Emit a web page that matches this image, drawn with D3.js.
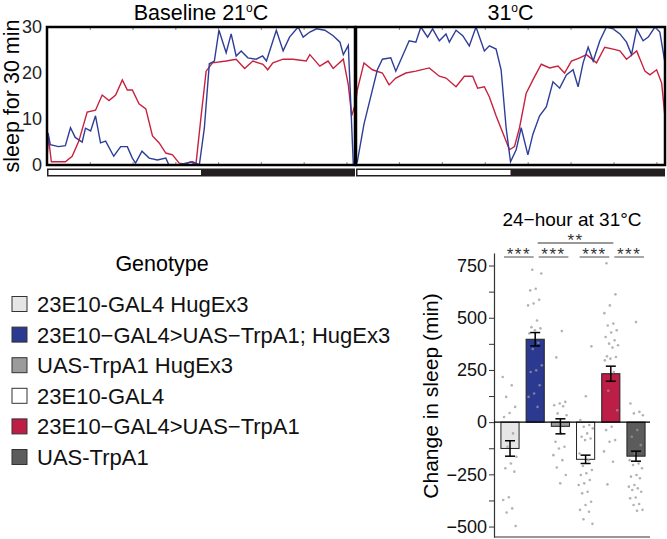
<!DOCTYPE html>
<html>
<head>
<meta charset="utf-8">
<script src="https://cdn.jsdelivr.net/npm/d3@7"></script>
<style>
  body { margin: 0; background: #fff; }
  text { font-family: "Liberation Sans", Arial, sans-serif; }
</style>
</head>
<body>
<script>
// sleep traces, [hour of day, min of sleep per 30 min]
var baselineBlue = [[0,0.5],[0.08,7],[0.26,4.4],[0.9,4],[1.43,4.2],[1.83,8.1],[2.2,6],[2.74,5],[3.0,8],[3.4,7.4],[3.78,10.7],[4.17,4.8],[4.57,5.2],[5.2,1.9],[5.74,4],[6.26,4],[6.65,1.5],[6.9,0.4],[7.4,3],[7.96,1.5],[8.6,1.1],[9.26,1.5],[9.5,0],[10.3,0],[10.8,0.4],[11.35,0.7],[11.87,0],[12.26,8],[12.65,22],[13.04,22.6],[13.4,29.3],[13.96,24.4],[14.35,28.5],[14.74,23.7],[15.13,24.8],[15.65,23.3],[16.3,23],[16.8,23.7],[17.1,22.6],[17.87,29.3],[18.4,24.8],[18.9,27.8],[19.57,30],[19.96,27.8],[20.48,28.9],[21.0,29.6],[21.65,29.3],[22.3,28.1],[22.83,26.7],[23.09,24],[23.48,26],[23.87,0],[24,0]];
var baselineRed = [[0,0.5],[0.08,6.7],[0.34,0.7],[1.43,0.7],[1.96,1.9],[2.48,5.2],[3.13,11.5],[3.78,11.9],[4.3,15.2],[4.83,14],[5.35,15.2],[5.87,18.5],[6.26,16.3],[6.65,16.3],[7.17,13.3],[7.7,12.2],[8.22,6.3],[8.74,4.8],[9.26,2.6],[9.78,2.2],[10.3,0.4],[10.83,0.2],[11.2,0.7],[11.6,0],[12.0,10.4],[12.4,20.4],[12.9,22.2],[13.96,22.6],[14.74,23],[15.4,21],[16.04,22.6],[16.83,21.9],[17.2,20.7],[17.6,22.2],[18.4,23],[19.17,23],[20.2,22.6],[20.48,24],[21.26,21.5],[21.9,22.6],[22.3,21],[23.09,23],[23.48,17.4],[23.74,10.7],[24,13]];
var heatBlue = [[0,0.2],[0.1,0.7],[0.62,8.9],[1.14,14.8],[1.66,20.7],[2.05,23],[2.7,23.3],[3.09,20.4],[3.61,23.7],[4.13,27],[4.65,26.7],[5.04,30],[5.56,27.8],[5.95,29.6],[6.47,27],[6.99,28.5],[7.25,26.7],[7.77,29.3],[8.29,28.1],[8.8,25.9],[9.32,30],[9.97,24.8],[10.36,25.9],[10.88,25.2],[11.27,20.7],[11.66,8.1],[12.0,0.7],[12.44,3.3],[12.83,8.1],[13.35,2.2],[13.74,6.7],[14.26,10.7],[14.78,12.6],[15.3,18.1],[15.82,16.7],[16.34,19.6],[16.86,20.7],[17.25,17],[17.64,22.2],[18.03,25.6],[18.42,22.6],[18.94,27],[19.45,30],[19.97,29.6],[20.5,28.5],[21.01,26.7],[21.4,24],[21.8,29.6],[22.3,27],[22.7,27.8],[23.22,30],[23.6,28.9],[24,22.2]];
var heatRed = [[0,14],[0.1,16.3],[0.62,22.2],[1.27,20.7],[2.05,20],[2.57,17.4],[3.09,18.9],[3.87,20],[4.65,20.4],[5.69,21.1],[6.47,19.3],[6.99,18.9],[7.77,17],[8.42,19.3],[9.06,19.3],[9.45,16.7],[9.97,17],[10.36,14.8],[10.88,10.7],[11.4,7],[11.92,3.3],[12.31,4],[12.7,8.1],[13.22,15.6],[13.74,18.5],[14.39,21.9],[15.04,21.1],[15.69,21.5],[16.2,20],[16.73,22.6],[17.38,23.3],[17.9,24],[18.68,22.2],[19.32,25.6],[19.97,25.2],[20.5,24.8],[21.01,23],[21.8,24.8],[22.44,20.4],[22.83,19.6],[23.35,20.7],[23.74,17.8],[24,10.4]];
var sleepTicks = [0, 10, 20, 30];

// bar chart
var genotypes = ["23E10-GAL4 HugEx3", "23E10\u2212GAL4>UAS\u2212TrpA1; HugEx3", "UAS-TrpA1 HugEx3", "23E10-GAL4", "23E10\u2212GAL4>UAS\u2212TrpA1", "UAS-TrpA1"];
var genoColors = ["#e6e6e6", "#2b3990", "#9b9b9b", "#ffffff", "#bd1e45", "#5c5c5c"];
var meanChange = [-126, 397, -20, -178, 232, -163];
var seChange = [37, 32, 36, 20, 36, 24];
var flyPoints = [
  [216, 177, 121, 73, 44, 25, -54, -118, -166, -198, -221, -237, -360, -373, -413, -433, -497],
  [730, 712, 639, 631, 586, 568, 559, 487, 455, 449, 440, 425, 380, 350, 272, 248, 240, 177, 137, 121, 73],
  [436, 310, 97, 89, 81, 76, 42, 33, -54, -94, -118, -126, -158, -182, -217, -253, -293],
  [363, 124, 10, -14, -22, -30, -54, -70, -78, -86, -150, -182, -210, -229, -245, -253, -277, -293, -301, -333, -341, -381, -397, -420, -429, -465, -487],
  [761, 612, 559, 522, 472, 463, 440, 429, 408, 392, 376, 368, 357, 315, 312, 304, 296, 240, 150, 57, -22, -38, -86, -94, -140, -190, -298],
  [479, 89, 49, 42, 33, -38, -70, -110, -150, -182, -198, -205, -221, -253, -261, -269, -301, -309, -317, -325, -333, -361, -365, -392, -397, -420, -424]
];
var changeTicks = [-500, -375, -250, -125, 0, 125, 250, 375, 500, 625, 750];
// [from bar, to bar, label, level]
var comparisons = [[0, 1, "***", 0], [1, 2, "***", 0], [3, 4, "***", 0], [4, 5, "***", 0], [1, 4, "**", 1]];
var experimental = [1, 4];

var svg = d3.select("body").append("svg")
    .attr("width", 667)
    .attr("height", 539);

//------------------ top sleep traces ------------------
var panels = [
  {title: "Baseline 21", x0: 47, x1: 355, blue: baselineBlue, red: baselineRed},
  {title: "31", x0: 356, x1: 665, blue: heatBlue, red: heatRed}
];
var yTrace = d3.scaleLinear().domain([0, 30]).range([165, 27]);

panels.forEach(function(p, i) {
    var x = d3.scaleLinear().domain([0, 24]).range([p.x0, p.x1]);
    var g = svg.append("g");
    g.append("clipPath").attr("id", "clip" + i)
      .append("rect").attr("x", p.x0).attr("y", 27).attr("width", p.x1 - p.x0).attr("height", 138);

    var line = d3.line()
        .x(function(d) { return x(d[0]); })
        .y(function(d) { return yTrace(d[1]); });

    g.append("path").datum(p.red)
        .attr("d", line).attr("fill", "none")
        .attr("stroke", "#c8213f").attr("stroke-width", 1.4)
        .attr("clip-path", "url(#clip" + i + ")");
    g.append("path").datum(p.blue)
        .attr("d", line).attr("fill", "none")
        .attr("stroke", "#2e3e98").attr("stroke-width", 1.4)
        .attr("clip-path", "url(#clip" + i + ")");

    // small ticks every 200 min, inside the frame
    var tv = d3.range(1, 8).map(function(k) { return k * 200 / 60; });
    var tTop = g.append("g").attr("transform", "translate(0,27)")
        .call(d3.axisTop(x).tickValues(tv).tickSize(-3).tickFormat(""));
    var tBot = g.append("g").attr("transform", "translate(0,165)")
        .call(d3.axisBottom(x).tickValues(tv).tickSize(-3).tickFormat(""));
    [tTop, tBot].forEach(function(a) {
        a.select(".domain").remove();
        a.selectAll("line").attr("stroke", "#888");
    });

    g.append("rect")
        .attr("x", p.x0).attr("y", 27)
        .attr("width", p.x1 - p.x0).attr("height", 138)
        .attr("fill", "none").attr("stroke", "black").attr("stroke-width", 2.5);

    // light / dark bar
    g.append("rect")
        .attr("x", p.x0).attr("y", 168.5)
        .attr("width", p.x1 - p.x0).attr("height", 8)
        .attr("fill", "#231f20");
    g.append("rect")
        .attr("x", x(0) + 1.5).attr("y", 170)
        .attr("width", x(12) - x(0) - 1.5).attr("height", 5)
        .attr("fill", "white");

    var t = g.append("text")
        .attr("x", (p.x0 + p.x1) / 2).attr("y", 20)
        .attr("text-anchor", "middle")
        .attr("font-size", 21.5)
        .text(p.title);
    t.append("tspan").attr("font-size", 12).attr("dy", -8).text("o");
    t.append("tspan").attr("dy", 8).text("C");

    if (i == 0) {
        var ya = g.append("g").attr("transform", "translate(" + (p.x0 - 2) + ",0)")
            .call(d3.axisLeft(yTrace).tickValues(sleepTicks).tickSize(0).tickPadding(3));
        ya.select(".domain").remove();
        ya.selectAll("text").attr("font-size", 18).attr("fill", "#222")
            .style("font-family", "Liberation Sans, Arial, sans-serif");
    }
});

svg.append("text")
    .attr("transform", "translate(18.5,96) rotate(-90)")
    .attr("text-anchor", "middle")
    .attr("font-size", 21.5)
    .text("sleep for 30 min");

//------------------ legend ------------------
svg.append("text")
    .attr("x", 162).attr("y", 271)
    .attr("text-anchor", "middle")
    .attr("font-size", 21.5)
    .text("Genotype");

var legendY = d3.scaleLinear().domain([0, 5]).range([304, 457]);
genotypes.forEach(function(name, i) {
    svg.append("rect")
        .attr("x", 12).attr("y", legendY(i) - 7.5)
        .attr("width", 15).attr("height", 15)
        .attr("fill", genoColors[i])
        .attr("stroke", "#333").attr("stroke-width", 1);
    svg.append("text")
        .attr("x", 37).attr("y", legendY(i) + 8)
        .attr("font-size", 22)
        .attr("fill", "#111")
        .text(name);
});

//------------------ bar chart ------------------
var xBar = d3.scaleBand()
    .domain(d3.range(genotypes.length))
    .range([497.4, 648.6])
    .paddingInner(0.28)
    .paddingOuter(0.14);
var yBar = d3.scaleLinear().domain([-550, 810]).range([537, 253]);
var bw = xBar.bandwidth();

var yAx = svg.append("g").attr("transform", "translate(494,0)")
    .call(d3.axisLeft(yBar).tickValues(changeTicks).tickSize(5).tickPadding(2).tickSizeOuter(0)
        .tickFormat(function(d) { return d % 250 == 0 ? d3.format("")(d).replace("-", "\u2212") : ""; }));
yAx.select(".domain").attr("stroke", "#333").attr("stroke-width", 1.2);
yAx.selectAll("line").attr("stroke", "#333");
yAx.selectAll("text").attr("font-size", 18).attr("fill", "#111")
    .style("font-family", "Liberation Sans, Arial, sans-serif");

svg.append("line")
    .attr("x1", 494).attr("x2", 650)
    .attr("y1", yBar.range()[0]).attr("y2", yBar.range()[0])
    .attr("stroke", "#333").attr("stroke-width", 1.2);

svg.selectAll(".bar").data(meanChange).enter().append("rect")
    .attr("class", "bar")
    .attr("x", function(d, i) { return xBar(i); })
    .attr("y", function(d) { return Math.min(yBar(0), yBar(d)); })
    .attr("width", bw)
    .attr("height", function(d) { return Math.abs(yBar(d) - yBar(0)); })
    .attr("fill", function(d, i) { return genoColors[i]; })
    .attr("stroke", "#222").attr("stroke-width", 1);

svg.append("line")
    .attr("x1", 494).attr("x2", 650)
    .attr("y1", yBar(0)).attr("y2", yBar(0))
    .attr("stroke", "black").attr("stroke-width", 1.2);

// individual flies, spread across the bar width
flyPoints.forEach(function(pts, gi) {
    svg.selectAll(".pt" + gi).data(pts).enter().append("circle")
        .attr("class", "pt" + gi)
        .attr("cx", function(d, k) {
            var f = ((k * 0.618034 + gi * 0.3) % 1) - 0.5;
            return xBar(gi) + bw / 2 + f * bw * 0.8;
        })
        .attr("cy", function(d) { return yBar(d); })
        .attr("r", 1.3)
        .attr("fill", "#999")
        .attr("fill-opacity", 0.75);
});

// error bars
meanChange.forEach(function(m, i) {
    var cx = xBar(i) + bw / 2;
    var g = svg.append("g").attr("stroke", "black").attr("stroke-width", 1.5);
    g.append("line").attr("x1", cx).attr("x2", cx)
        .attr("y1", yBar(m - seChange[i])).attr("y2", yBar(m + seChange[i]));
    g.append("line").attr("x1", cx - 5).attr("x2", cx + 5)
        .attr("y1", yBar(m - seChange[i])).attr("y2", yBar(m - seChange[i]));
    g.append("line").attr("x1", cx - 5).attr("x2", cx + 5)
        .attr("y1", yBar(m + seChange[i])).attr("y2", yBar(m + seChange[i]));
});

// significance brackets, short ones leave a gap next to the experimental bar
comparisons.forEach(function(c) {
    var ca = xBar(c[0]) + bw / 2;
    var cb = xBar(c[1]) + bw / 2;
    var xa, xb;
    if (c[3] == 1) { xa = ca + 2.5; xb = cb + 2.5; }
    else if (experimental.indexOf(c[1]) >= 0) { xa = ca - 6; xb = cb - 1.5; }
    else { xa = ca + 3.5; xb = cb + 8; }
    var ly = c[3] == 0 ? 257 : 243;
    svg.append("line")
        .attr("x1", xa).attr("x2", xb).attr("y1", ly).attr("y2", ly)
        .attr("stroke", "#777").attr("stroke-width", 1.3);
    svg.append("text")
        .attr("x", (xa + xb) / 2).attr("y", ly + 2.5)
        .attr("text-anchor", "middle")
        .attr("font-size", 17)
        .attr("fill", "#333")
        .attr("letter-spacing", 1.5)
        .text(c[2]);
});

svg.append("text")
    .attr("x", 572).attr("y", 226)
    .attr("text-anchor", "middle")
    .attr("font-size", 19)
    .text("24\u2212hour at 31\u00b0C");

svg.append("text")
    .attr("transform", "translate(438,396) rotate(-90)")
    .attr("text-anchor", "middle")
    .attr("font-size", 21)
    .text("Change in sleep (min)");
</script>
</body>
</html>
